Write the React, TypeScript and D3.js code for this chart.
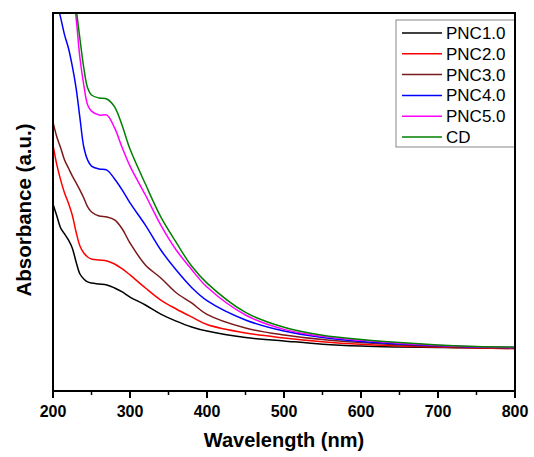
import React from "react";
import * as d3 from "d3";

const wavelengths = [
  200, 205, 210, 215, 220, 225, 230, 235, 240, 245, 250, 260, 270, 280, 290,
  300, 320, 340, 360, 380, 400, 450, 500, 550, 600, 650, 700, 750, 800,
];

const pnc1 = [
  0.989, 0.926, 0.862, 0.831, 0.799, 0.757, 0.683, 0.619, 0.593, 0.577, 0.571,
  0.566, 0.561, 0.545, 0.524, 0.497, 0.455, 0.407, 0.37, 0.339, 0.317, 0.283,
  0.265, 0.248, 0.238, 0.233, 0.23, 0.228, 0.225,
];
const pnc2 = [
  1.302, 1.196, 1.116, 1.048, 0.995, 0.931, 0.841, 0.767, 0.73, 0.709, 0.698,
  0.693, 0.688, 0.672, 0.646, 0.614, 0.545, 0.481, 0.434, 0.392, 0.352, 0.307,
  0.281, 0.261, 0.247, 0.238, 0.233, 0.228, 0.225,
];
const pnc3 = [
  1.423, 1.344, 1.286, 1.222, 1.18, 1.138, 1.101, 1.063, 1.021, 0.974, 0.947,
  0.926, 0.921, 0.905, 0.857, 0.783, 0.667, 0.598, 0.52, 0.466, 0.405, 0.333,
  0.296, 0.272, 0.256, 0.244, 0.236, 0.23, 0.228,
];
const pnc4 = [
  2.148, 2.053, 1.974, 1.884, 1.815, 1.72, 1.603, 1.444, 1.291, 1.222, 1.19,
  1.175, 1.169, 1.122, 1.063, 0.995, 0.878, 0.746, 0.64, 0.548, 0.478, 0.376,
  0.317, 0.283, 0.262, 0.249, 0.239, 0.233, 0.23,
];
const pnc5 = [
  2.915, 2.757, 2.598, 2.439, 2.28, 2.143, 1.974, 1.762, 1.619, 1.513, 1.481,
  1.46, 1.46, 1.392, 1.286, 1.19, 1.037, 0.878, 0.746, 0.643, 0.55, 0.402,
  0.326, 0.289, 0.268, 0.253, 0.241, 0.234, 0.23,
];
const cd = [
  2.979, 2.82, 2.661, 2.503, 2.344, 2.185, 2.026, 1.862, 1.709, 1.603, 1.566,
  1.55, 1.545, 1.503, 1.402, 1.28, 1.095, 0.921, 0.786, 0.661, 0.571, 0.416,
  0.337, 0.295, 0.272, 0.256, 0.244, 0.236, 0.233,
];

const seriesNames = ["PNC1.0", "PNC2.0", "PNC3.0", "PNC4.0", "PNC5.0", "CD"];
const seriesValues = [pnc1, pnc2, pnc3, pnc4, pnc5, cd];
const seriesColors = ["#000000", "#ff0000", "#7a1a1a", "#0000ff", "#ff00ff", "#008000"];

const xTicks = [200, 300, 400, 500, 600, 700, 800];
const xMinorTicks = [250, 350, 450, 550, 650, 750];

const W = 534;
const H = 457;
const margin = { top: 13, right: 19, bottom: 66, left: 53 };

export default function App() {
  const x = d3
    .scaleLinear()
    .domain([200, 800])
    .range([margin.left, W - margin.right]);
  const y = d3
    .scaleLinear()
    .domain([0, 2])
    .range([H - margin.bottom, margin.top]);

  const line = d3
    .line<number>()
    .x((_, i) => x(wavelengths[i]))
    .y((d) => y(d))
    .curve(d3.curveCatmullRom.alpha(0.5));

  const x0 = x(200);
  const x1 = x(800);
  const yTop = y(2);
  const yBot = y(0);
  const font = "Arial, 'Liberation Sans', sans-serif";

  const legendX = 396;
  const legendY = 20;

  return (
    <svg
      width={W}
      height={H}
      style={{ position: "absolute", left: 0, top: 0, background: "#fff" }}
    >
      <defs>
        <clipPath id="plot-clip">
          <rect x={x0} y={yTop} width={x1 - x0} height={yBot - yTop} />
        </clipPath>
      </defs>
      <rect width={W} height={H} fill="#fff" />

      <g clipPath="url(#plot-clip)">
        {seriesValues.map((vals, i) => (
          <path
            key={seriesNames[i]}
            d={line(vals) || ""}
            fill="none"
            stroke={seriesColors[i]}
            strokeWidth={1.5}
          />
        ))}
      </g>

      {/* frame */}
      <rect
        x={x0}
        y={yTop}
        width={x1 - x0}
        height={yBot - yTop}
        fill="none"
        stroke="#000"
        strokeWidth={2}
      />

      {/* x ticks */}
      {xTicks.map((t) => (
        <g key={t}>
          <line x1={x(t)} x2={x(t)} y1={yBot} y2={yBot + 7} stroke="#000" strokeWidth={2} />
          <text
            x={x(t)}
            y={yBot + 26}
            textAnchor="middle"
            fontFamily={font}
            fontWeight="bold"
            fontSize={16}
          >
            {t}
          </text>
        </g>
      ))}
      {xMinorTicks.map((t) => (
        <line key={t} x1={x(t)} x2={x(t)} y1={yBot} y2={yBot + 4} stroke="#000" strokeWidth={1.5} />
      ))}

      <text
        x={(x0 + x1) / 2}
        y={yBot + 56}
        textAnchor="middle"
        fontFamily={font}
        fontWeight="bold"
        fontSize={20}
      >
        Wavelength (nm)
      </text>
      <text
        transform={`translate(31,${(yTop + yBot) / 2 + 8}) rotate(-90)`}
        textAnchor="middle"
        fontFamily={font}
        fontWeight="bold"
        fontSize={20.5}
      >
        Absorbance (a.u.)
      </text>

      {/* legend */}
      <rect
        x={legendX}
        y={legendY}
        width={x1 - legendX}
        height={127}
        fill="#fff"
        stroke="#888"
        strokeWidth={1}
      />
      {seriesNames.map((name, i) => {
        const ly = legendY + 13 + i * 20.8;
        return (
          <g key={name}>
            <line x1={402} x2={442} y1={ly} y2={ly} stroke={seriesColors[i]} strokeWidth={1.5} />
            <text x={446} y={ly + 6} fontFamily={font} fontSize={17}>
              {name}
            </text>
          </g>
        );
      })}
      <line x1={x1} x2={x1} y1={yTop} y2={yBot} stroke="#000" strokeWidth={2} />
    </svg>
  );
}
